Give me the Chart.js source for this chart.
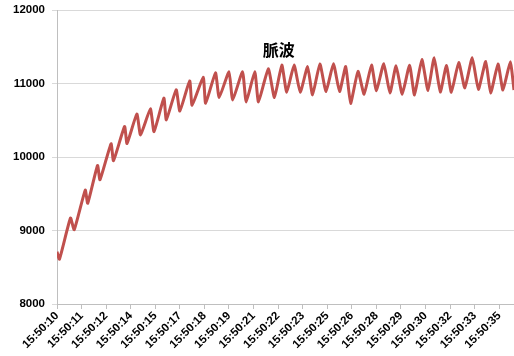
<!DOCTYPE html>
<html>
<head>
<meta charset="utf-8">
<script src="https://cdn.jsdelivr.net/npm/chart.js@4"></script>
<style>
  html, body { margin: 0; padding: 0; background: #fff; }
  #wrap { width: 514px; height: 356px; }
</style>
</head>
<body>
<div id="wrap"><canvas id="pulse-chart"></canvas></div>
<script>
// time labels, one every 20 samples
const tickLabels = ['15:50:10', '15:50:11', '15:50:12', '15:50:14', '15:50:15', '15:50:17', '15:50:18',
    '15:50:19', '15:50:21', '15:50:22', '15:50:23', '15:50:25', '15:50:26', '15:50:28', '15:50:29',
    '15:50:30', '15:50:32', '15:50:33', '15:50:35'];
const samplesPerLabel = 20;

// sample number of each peak / trough
const sampleNo = [0, 2, 11, 14, 23, 25, 33, 35, 44, 46, 55, 57, 65, 68, 76, 79, 87, 89, 97, 100,
    108, 110, 119, 121, 129, 132, 140, 143, 151, 154, 161, 164, 172, 177, 183, 187, 193, 198, 204, 208,
    214, 219, 225, 230, 235, 239, 245, 250, 256, 260, 266, 271, 276, 281, 287, 291, 297, 302, 307, 312,
    317, 321, 327, 332, 338, 343, 349, 353, 359, 363, 369, 372];

const pulse = [8710, 8610, 9170, 9010, 9550, 9370, 9885, 9690, 10180, 9950, 10415, 10185, 10585, 10300,
    10655, 10345, 10800, 10505, 10915, 10625, 11035, 10705, 11085, 10730, 11145, 10810, 11160, 10775,
    11160, 10750, 11160, 10750, 11200, 10810, 11250, 10880, 11250, 10880, 11230, 10845, 11265, 10890,
    11270, 10890, 11230, 10730, 11165, 10855, 11250, 10900, 11270, 10870, 11240, 10855, 11250, 10845,
    11325, 10905, 11350, 10885, 11245, 10880, 11285, 10940, 11350, 10920, 11300, 10870, 11265, 10910,
    11295, 10910];

const yTicks = [8000, 9000, 10000, 11000, 12000];

const labelFont = { family: '"Liberation Sans", Arial, sans-serif', size: 11.5, weight: 'bold' };

// chart title drawn inside the plot area
const innerTitle = {
    id: 'innerTitle',
    afterDraw(chart) {
        const { ctx, chartArea } = chart;
        ctx.save();
        ctx.font = 'bold 16px "Noto Sans CJK JP", sans-serif';
        ctx.fillStyle = '#000';
        ctx.textAlign = 'center';
        ctx.textBaseline = 'middle';
        ctx.fillText('脈波', chartArea.left + chartArea.width * 0.485, chartArea.top + 40);
        ctx.restore();
    }
};

new Chart(document.getElementById('pulse-chart'), {
    type: 'line',
    data: {
        datasets: [{
            label: '脈波',
            data: sampleNo.map((s, i) => ({ x: s, y: pulse[i] })),
            borderColor: '#C0504D',
            borderWidth: 3,
            pointRadius: 0,
            tension: 0.15,
            fill: false
        }]
    },
    options: {
        responsive: true,
        maintainAspectRatio: false,
        animation: false,
        layout: { padding: { top: 10, right: 0, left: 0, bottom: 0 } },
        plugins: {
            legend: { display: false },
            tooltip: { enabled: false }
        },
        scales: {
            x: {
                type: 'linear',
                min: 0,
                max: 372,
                afterFit: s => { s.height = 52; },
                afterBuildTicks: s => {
                    s.ticks = tickLabels.map((_, i) => ({ value: i * samplesPerLabel }));
                },
                ticks: {
                    autoSkip: false,
                    maxRotation: 45,
                    minRotation: 45,
                    padding: 0,
                    color: '#000',
                    font: labelFont,
                    callback: v => tickLabels[v / samplesPerLabel]
                },
                grid: { drawOnChartArea: false, drawTicks: true, tickLength: 5, color: '#bfbfbf' },
                border: { color: '#bfbfbf' }
            },
            y: {
                min: 8000,
                max: 12000,
                afterFit: s => { s.width = 57; s.paddingTop = 0; s.paddingBottom = 0; },
                afterBuildTicks: s => { s.ticks = yTicks.map(v => ({ value: v })); },
                ticks: { padding: 7, color: '#000', font: labelFont, callback: v => String(v) },
                grid: { color: '#d9d9d9', tickLength: 5 },
                border: { color: '#bfbfbf' }
            }
        }
    },
    plugins: [innerTitle]
});
</script>
</body>
</html>
